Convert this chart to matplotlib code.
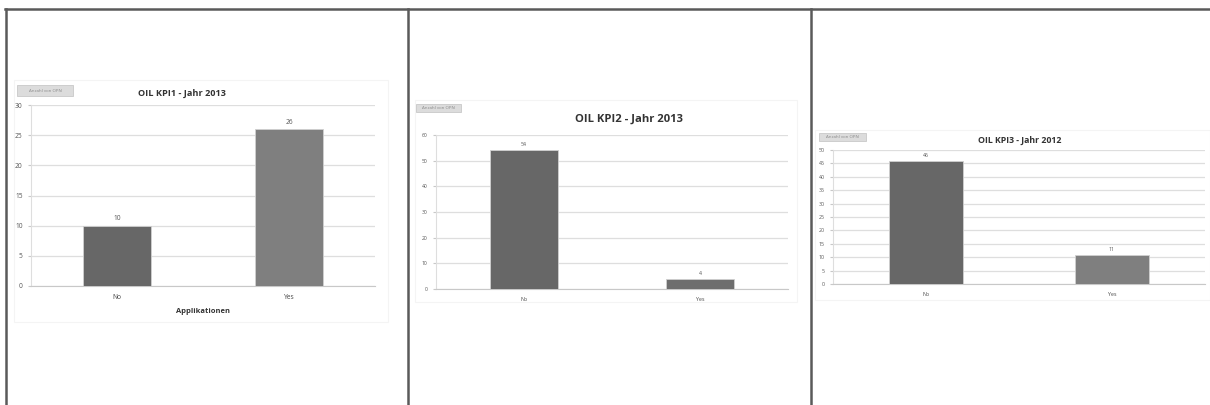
import matplotlib
matplotlib.use("Agg")
import matplotlib.pyplot as plt
from matplotlib.patches import Rectangle, FancyBboxPatch
from matplotlib.lines import Line2D

plt.rcParams['font.family'] = ['Open Sans', 'DejaVu Sans']

categories = ["No", "Yes"]

kpi1_values = [10, 26]
kpi2_values = [54, 4]
kpi3_values = [46, 11]

titles = ["OIL KPI1 - Jahr 2013", "OIL KPI2 - Jahr 2013", "OIL KPI3 - Jahr 2012"]
field_button = "Anzahl von OPN"
kpi1_xlabel = "Applikationen"

kpi1_ticks = [0, 5, 10, 15, 20, 25, 30]
kpi2_ticks = [0, 10, 20, 30, 40, 50, 60]
kpi3_ticks = [0, 5, 10, 15, 20, 25, 30, 35, 40, 45, 50]

W, H = 1210, 405
fig = plt.figure(figsize=(W / 100, H / 100), dpi=100)
fig.patch.set_facecolor("white")


def box(x0, y0, x1, y1):
    """Pixel box (top-left origin) -> figure fraction rect."""
    return [x0 / W, 1 - y1 / H, (x1 - x0) / W, (y1 - y0) / H]


def fx(x):
    return x / W


def fy(y):
    return 1 - y / H


# sheet frame lines
frame_col = "#5a5a5a"
fig.add_artist(Line2D([fx(5), fx(1210)], [fy(9), fy(9)], color=frame_col, lw=1.8))
for xv in (6, 408, 811):
    fig.add_artist(Line2D([fx(xv), fx(xv)], [fy(9), fy(405)], color=frame_col, lw=1.8))


def chart_panel(area, plot, values, ticks, title, colors, title_size, title_y,
                title_x, button, tick_size, label_size, xlabel=None, bar_width=0.4):
    # faint chart-area border
    fig.add_artist(Rectangle((fx(area[0]), fy(area[3])),
                             fx(area[2]) - fx(area[0]), fy(area[1]) - fy(area[3]),
                             transform=fig.transFigure, fill=False,
                             edgecolor="#f4f4f4", lw=0.8))
    # field button
    fig.add_artist(FancyBboxPatch((fx(button[0]), fy(button[3])),
                                  fx(button[2]) - fx(button[0]),
                                  fy(button[1]) - fy(button[3]),
                                  boxstyle="square,pad=0", transform=fig.transFigure,
                                  facecolor="#dcdcdc", edgecolor="#c8c8c8", lw=0.6))
    fig.text(fx((button[0] + button[2]) / 2), fy((button[1] + button[3]) / 2),
             field_button, ha="center", va="center", fontsize=3.2, color="#8a8a8a")

    ax = fig.add_axes(box(*plot))
    x = range(len(categories))
    ax.bar(x, values, width=bar_width, color=colors, edgecolor="#d0d0d0",
           linewidth=0.6, zorder=3)
    ax.set_xlim(-0.5, len(categories) - 0.5)
    ax.set_ylim(ticks[0], ticks[-1])
    ax.set_yticks(ticks)
    ax.set_xticks(list(x))
    ax.set_xticklabels(categories)
    ax.grid(axis="y", color="#dedede", lw=0.9, zorder=0)
    for s in ("top", "right"):
        ax.spines[s].set_visible(False)
    ax.spines["left"].set_color("#dedede")
    ax.spines["bottom"].set_color("#c8c8c8")
    ax.tick_params(axis="y", length=2, color="#c8c8c8", labelsize=tick_size,
                   labelcolor="#555555", pad=4)
    ax.tick_params(axis="x", length=0, labelsize=label_size, labelcolor="#444444", pad=6)
    top = ticks[-1]
    for xi, v in zip(x, values):
        ax.text(xi, v + top * 0.02, str(v), ha="center", va="bottom",
                fontsize=label_size, color="#555555")
    if xlabel:
        ax.set_xlabel(xlabel, fontsize=5.4, fontweight="bold", color="#333333",
                      labelpad=5)
    fig.text(fx(title_x), fy(title_y), title, ha="center", va="center",
             fontsize=title_size, fontweight="bold", color="#333333")
    return ax


chart_panel(area=(14, 80, 388, 322), plot=(31, 105, 375, 286),
            values=kpi1_values, ticks=kpi1_ticks, title=titles[0],
            colors=["#676767", "#7f7f7f"], title_size=6.6, title_y=93, title_x=182,
            button=(17, 85, 73, 96), tick_size=4.8, label_size=4.8,
            xlabel=kpi1_xlabel, bar_width=0.4)

chart_panel(area=(415, 100, 797, 302), plot=(436, 135, 788, 289),
            values=kpi2_values, ticks=kpi2_ticks, title=titles[1],
            colors=["#676767", "#6e6e6e"], title_size=8.1, title_y=119, title_x=629,
            button=(416, 104, 461, 112), tick_size=3.6, label_size=3.8,
            bar_width=0.39)

chart_panel(area=(815, 130, 1210, 300), plot=(833, 150, 1205, 284),
            values=kpi3_values, ticks=kpi3_ticks, title=titles[2],
            colors=["#676767", "#7f7f7f"], title_size=6.3, title_y=140, title_x=1020,
            button=(819, 133, 866, 141), tick_size=3.8, label_size=3.8,
            bar_width=0.4)

fig.savefig("out.png", dpi=100, facecolor="white")
